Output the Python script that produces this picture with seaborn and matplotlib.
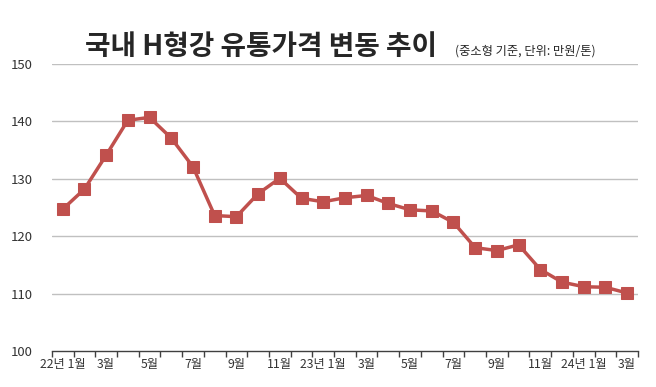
import numpy as np
import pandas as pd
import matplotlib
matplotlib.use("Agg")
import matplotlib.pyplot as plt
import seaborn as sns
from matplotlib.ticker import FixedLocator

sns.set_style("white")
plt.rcParams['font.family'] = ['Noto Sans CJK KR', 'DejaVu Sans']

# ---- data ----
months = ["22.01", "22.02", "22.03", "22.04", "22.05", "22.06", "22.07", "22.08", "22.09",
          "22.10", "22.11", "22.12", "23.01", "23.02", "23.03", "23.04", "23.05", "23.06",
          "23.07", "23.08", "23.09", "23.10", "23.11", "23.12", "24.01", "24.02", "24.03"]
prices = [124.7, 128.2, 134.1, 140.2, 140.7, 137.1, 132.1, 123.6, 123.4,
          127.4, 130.1, 126.6, 126.0, 126.7, 127.1, 125.7, 124.6, 124.4,
          122.4, 118.0, 117.5, 118.5, 114.2, 112.0, 111.2, 111.1, 110.1]
tick_labels = ["22년 1월", "3월", "5월", "7월", "9월", "11월", "23년 1월",
               "3월", "5월", "7월", "9월", "11월", "24년 1월", "3월"]
y_ticks = [100, 110, 120, 130, 140, 150]
title = "국내 H형강 유통가격 변동 추이"
subtitle = "(중소형 기준, 단위: 만원/톤)"

df = pd.DataFrame({"month": months, "price": prices})
df["pos"] = np.arange(len(df))

fig = plt.figure(figsize=(6.56, 3.87), dpi=100)
ax = fig.add_axes([0.079, 0.093, 0.8936, 0.7416])

sns.lineplot(data=df, x="pos", y="price", ax=ax, color="#c0504d", linewidth=2.5,
             marker="s", markersize=8.5, markeredgecolor="#c0504d", sort=False)

n = len(df)
ax.set_xlim(-0.5, n - 0.5)
ax.set_ylim(100, 150)
ax.set_yticks(y_ticks)
ax.set_yticklabels([str(v) for v in y_ticks], fontsize=9.5, color="#333333")
ax.set_xticks(np.arange(0, n, 2))
ax.set_xticklabels(tick_labels, fontsize=8.8, color="#333333")
ax.tick_params(axis="x", which="major", length=0, pad=5)
ax.xaxis.set_minor_locator(FixedLocator(np.arange(-0.5, n, 1)))
ax.tick_params(axis="x", which="minor", length=4, width=1, color="#404040", direction="out", bottom=True)
ax.tick_params(axis="y", length=0, pad=14)

for v in y_ticks[1:]:
    ax.axhline(v, color="#c0c0c0", linewidth=1, zorder=0)

for s in ["top", "right", "left"]:
    ax.spines[s].set_visible(False)
ax.spines["bottom"].set_color("#404040")
ax.spines["bottom"].set_linewidth(1)
ax.set_xlabel("")
ax.set_ylabel("")

fig.text(85 / 656, 1 - 55 / 387, title, fontsize=20, fontweight="bold", color="#262626",
         ha="left", va="baseline")
fig.text(455 / 656, 1 - 55 / 387, subtitle, fontsize=8.8, color="#262626",
         ha="left", va="baseline")

fig.savefig("out.png", dpi=100)
